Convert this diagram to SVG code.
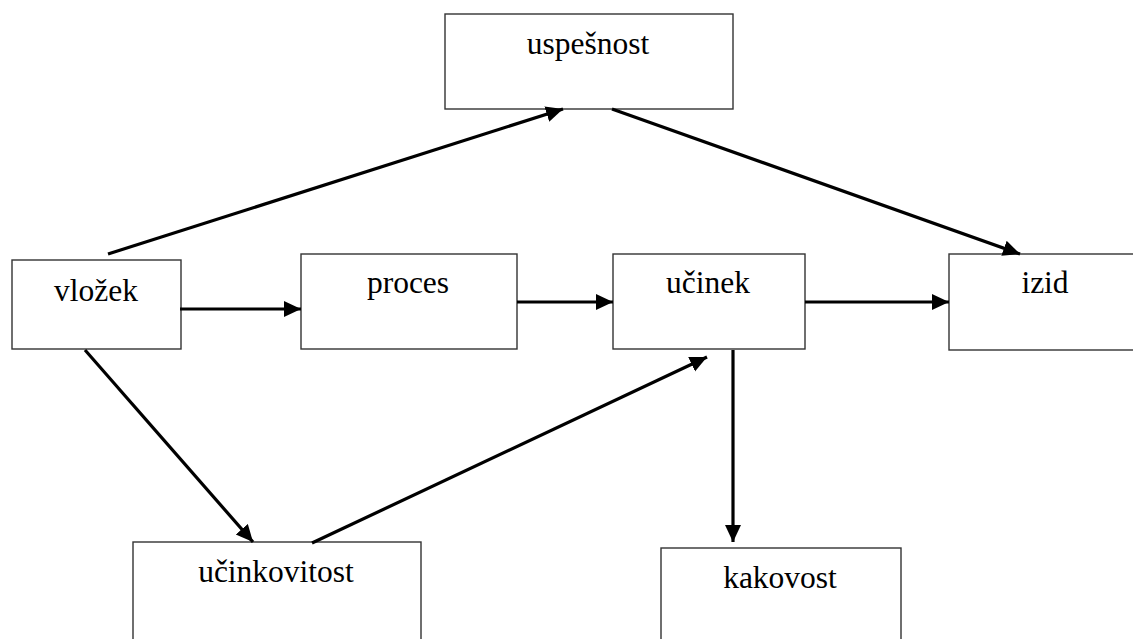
<svg xmlns="http://www.w3.org/2000/svg" width="1133" height="639" viewBox="0 0 1133 639">
<style>
.box{fill:#fff;stroke:#333;stroke-width:1.4}
.lbl{font-family:"Liberation Serif","Times New Roman",serif;font-size:31.5px;fill:#000;text-anchor:middle}
.arr{stroke:#000;stroke-width:3.2;fill:none;marker-end:url(#ah)}
</style>
<defs>
<marker id="ah" markerUnits="userSpaceOnUse" markerWidth="18" markerHeight="17" refX="17" refY="8" orient="auto">
<path d="M0,0 L17,8 L0,16 z" fill="#000"/>
</marker>
</defs>
<rect width="1133" height="639" fill="#fff"/>
<g id="uspesnost"><rect class="box" x="445" y="14" width="288" height="95"/><text class="lbl" x="588" y="54">uspešnost</text></g>
<g id="vlozek"><rect class="box" x="12" y="260" width="169" height="89"/><text class="lbl" x="96" y="301">vložek</text></g>
<g id="proces"><rect class="box" x="301" y="254" width="216" height="95"/><text class="lbl" x="408" y="293">proces</text></g>
<g id="ucinek"><rect class="box" x="613" y="254" width="192" height="95"/><text class="lbl" x="708" y="293">učinek</text></g>
<g id="izid"><rect class="box" x="949" y="254" width="200" height="96"/><text class="lbl" x="1045" y="293">izid</text></g>
<g id="ucinkovitost"><rect class="box" x="133" y="542" width="288" height="110"/><text class="lbl" x="276" y="582">učinkovitost</text></g>
<g id="kakovost"><rect class="box" x="661" y="548" width="240" height="110"/><text class="lbl" x="780" y="588">kakovost</text></g>
<g id="connectors">
<line class="arr" x1="108" y1="254" x2="563" y2="109"/>
<line class="arr" x1="612" y1="109" x2="1020" y2="254"/>
<line class="arr" x1="180" y1="309" x2="301" y2="309"/>
<line class="arr" x1="517" y1="302" x2="613" y2="302"/>
<line class="arr" x1="805" y1="302" x2="949" y2="302"/>
<line class="arr" x1="85" y1="350" x2="253" y2="542"/>
<line class="arr" x1="312" y1="543" x2="707" y2="357"/>
<line class="arr" x1="733" y1="350" x2="733" y2="542"/>
</g>
</svg>
